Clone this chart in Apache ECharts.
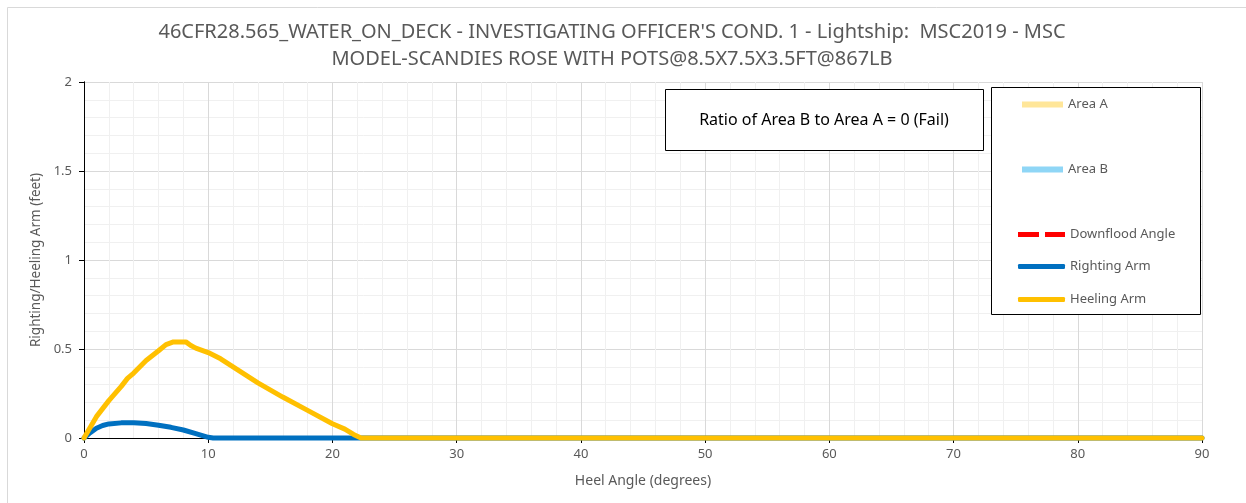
<!DOCTYPE html>
<html>
<head>
<meta charset="utf-8">
<script src="https://cdn.jsdelivr.net/npm/echarts@6/dist/echarts.min.js"></script>
<style>
  html, body { margin: 0; padding: 0; background: #fff; }
  #chart { width: 1246px; height: 503px; }
</style>
</head>
<body>
<div id="chart"></div>
<script>
const titleText = "46CFR28.565_WATER_ON_DECK - INVESTIGATING OFFICER'S COND. 1 - Lightship:  MSC2019 - MSC\nMODEL-SCANDIES ROSE WITH POTS@8.5X7.5X3.5FT@867LB";
const ratioText = 'Ratio of Area B to Area A = 0 (Fail)';

// heeling arm curve (deg, feet)
const heelAngles = [0, 1, 2, 3, 3.5, 4, 5, 6, 6.6, 7.2, 8.2, 8.6, 9, 10, 11, 12, 14, 16, 18, 20, 21, 21.7, 22.3, 90];
const heelingArm = [0, 0.12, 0.21, 0.29, 0.335, 0.365, 0.435, 0.49, 0.525, 0.54, 0.54, 0.52, 0.505, 0.48, 0.445, 0.4, 0.31, 0.23, 0.155, 0.08, 0.05, 0.02, 0, 0];

// righting arm curve (deg, feet)
const rightAngles = [0, 0.5, 1, 1.5, 2, 3, 4, 5, 6, 7, 8, 9, 10, 10.4, 90];
const rightingArm = [0, 0.03, 0.055, 0.07, 0.079, 0.085, 0.086, 0.081, 0.072, 0.06, 0.045, 0.025, 0.004, 0, 0];

const xTicks = { min: 0, max: 90, step: 10 };
const yTicks = { min: 0, max: 2, step: 0.5 };

const textColor = '#595959';
const font = 'Noto Sans, sans-serif';

function pairs(xs, ys) {
  return xs.map((x, i) => [x, ys[i]]);
}

const chart = echarts.init(document.getElementById('chart'), null, { renderer: 'canvas' });

function legendAt(name, top, icon, opts) {
  return Object.assign({
    data: [{ name: name, icon: icon }],
    left: 1018,
    top: top,
    padding: 0,
    itemWidth: 47,
    itemHeight: 5,
    selectedMode: false,
    textStyle: { color: textColor, fontSize: 13, fontFamily: font },
  }, opts || {});
}

const axisCommon = {
  axisLine: { show: true, lineStyle: { color: '#000', width: 1 } },
  axisTick: { show: true, inside: false, length: 5, lineStyle: { color: '#000' } },
  axisLabel: { color: textColor, fontSize: 13, fontFamily: font },
  splitLine: { show: true, lineStyle: { color: '#d9d9d9', width: 1 } },
  minorTick: { show: false, splitNumber: 5 },
  minorSplitLine: { show: true, lineStyle: { color: '#f0f0f0', width: 1 } },
};

chart.setOption({
  backgroundColor: '#fff',
  animation: false,
  title: {
    text: titleText,
    left: 607,
    top: 14,
    textAlign: 'center',
    textStyle: { color: textColor, fontSize: 20, fontWeight: 'normal', fontFamily: font, lineHeight: 27 },
  },
  grid: { left: 84, right: 44, top: 82, bottom: 65, containLabel: false },
  legend: [
    legendAt('Area A', 98, 'rect', { left: 1022, itemWidth: 41, itemHeight: 6 }),
    legendAt('Area B', 163, 'rect', { left: 1022, itemWidth: 41, itemHeight: 6 }),
    legendAt('Downflood Angle', 228, 'path://M0,0h21v5h-21z M27,0h20v5h-20z'),
    legendAt('Righting Arm', 260, 'roundRect'),
    legendAt('Heeling Arm', 293, 'roundRect'),
  ],
  xAxis: [
    Object.assign({}, axisCommon, {
      type: 'value',
      min: xTicks.min,
      max: xTicks.max,
      interval: xTicks.step,
      name: 'Heel Angle (degrees)',
      nameLocation: 'middle',
      nameGap: 36,
      nameTextStyle: { color: textColor, fontSize: 14, fontFamily: font },
      axisLabel: Object.assign({}, axisCommon.axisLabel, { margin: 10 }),
    }),
    {
      type: 'value', position: 'top', min: xTicks.min, max: xTicks.max,
      axisLine: { show: true, lineStyle: { color: '#000' } },
      axisTick: { show: false }, axisLabel: { show: false }, splitLine: { show: false },
    },
  ],
  yAxis: [
    Object.assign({}, axisCommon, {
      type: 'value',
      min: yTicks.min,
      max: yTicks.max,
      interval: yTicks.step,
      name: 'Righting/Heeling Arm (feet)',
      nameLocation: 'middle',
      nameGap: 40,
      nameTextStyle: { color: textColor, fontSize: 13.5, fontFamily: font },
      axisLabel: Object.assign({}, axisCommon.axisLabel, { margin: 12 }),
    }),
    {
      type: 'value', position: 'right', min: yTicks.min, max: yTicks.max,
      axisLine: { show: true, lineStyle: { color: '#000' } },
      axisTick: { show: false }, axisLabel: { show: false }, splitLine: { show: false },
    },
  ],
  series: [
    {
      name: 'Area A', type: 'line', data: [], color: '#ffe699',
      symbol: 'none', areaStyle: { color: '#ffe699' }, lineStyle: { width: 0 },
    },
    {
      name: 'Area B', type: 'line', data: [], color: '#8fd6f6',
      symbol: 'none', areaStyle: { color: '#8fd6f6' }, lineStyle: { width: 0 },
    },
    {
      name: 'Downflood Angle', type: 'line', data: [], color: '#ff0000',
      symbol: 'none', lineStyle: { width: 5, type: [21, 6], color: '#ff0000' },
    },
    {
      name: 'Righting Arm', type: 'line', data: pairs(rightAngles, rightingArm),
      color: '#0070c0', symbol: 'none', smooth: false, clip: false,
      lineStyle: { width: 5, color: '#0070c0', cap: 'round', join: 'round' },
      z: 3,
    },
    {
      name: 'Heeling Arm', type: 'line', data: pairs(heelAngles, heelingArm),
      color: '#ffc000', symbol: 'none', smooth: false, clip: false,
      lineStyle: { width: 5, color: '#ffc000', cap: 'round', join: 'round' },
      z: 3,
    },
  ],
  graphic: [
    {
      type: 'rect', z: 3, left: 5, top: 5, silent: true,
      shape: { width: 1239, height: 497 },
      style: { fill: 'none', stroke: '#d9d9d9', lineWidth: 1 },
    },
    {
      type: 'rect', z: 3, left: 665, top: 89,
      shape: { width: 318, height: 61 },
      style: { fill: '#fff', stroke: '#000', lineWidth: 1 },
    },
    {
      type: 'text', z: 4, x: 824, y: 120,
      style: {
        text: ratioText, align: 'center', verticalAlign: 'middle',
        fill: '#000', font: '16px ' + font,
      },
    },
    {
      type: 'rect', z: 3, left: 991, top: 87,
      shape: { width: 209, height: 227 },
      style: { fill: '#fff', stroke: '#000', lineWidth: 1 },
    },
  ],
});
</script>
</body>
</html>
